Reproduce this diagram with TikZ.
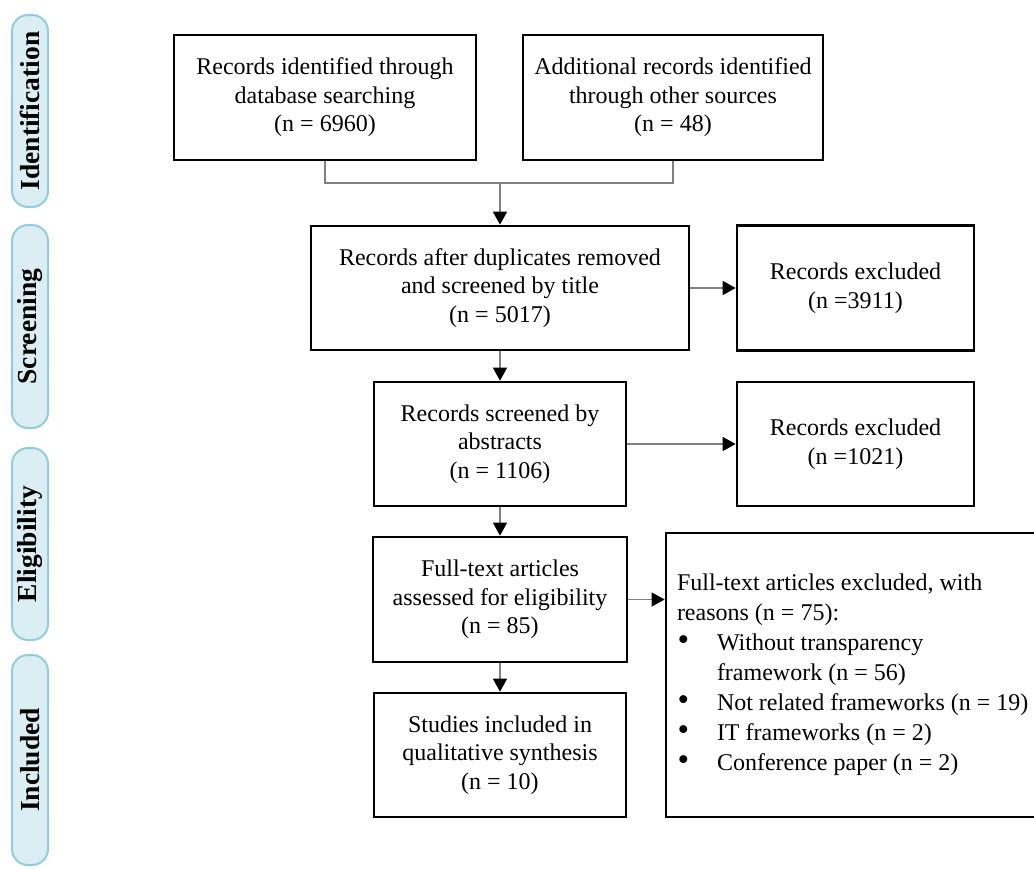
\documentclass[tikz,border=0pt]{standalone}
\usepackage{fontspec}
\setmainfont{Liberation Serif}
\usetikzlibrary{arrows.meta}
\definecolor{linegray}{HTML}{808080}
\definecolor{stagefill}{HTML}{DAEEF3}
\definecolor{stageedge}{HTML}{92CDDC}
\newcommand{\listdot}{\makebox[40pt][l]{\hspace{0.5pt}{\fontsize{33}{30}\selectfont\textbullet}}}
\begin{document}
\begin{tikzpicture}[x=1pt,y=-1pt,
  box/.style={draw=black, line width=2.7pt, align=center, inner sep=0pt,
    font=\fontsize{24}{28.5}\selectfont},
  stage/.style={draw=stageedge, fill=stagefill, line width=2pt, rounded corners=16pt,
    rotate=90, minimum height=36pt, inner sep=0pt,
    font=\fontsize{27.5}{30}\selectfont\bfseries},
  link/.style={draw=linegray, line width=1.5pt},
  flow/.style={link, -{Triangle[color=black,length=13pt,width=14pt]}}]

\useasboundingbox (0,0) rectangle (1034,868);

% phase labels on the left
\node[stage, minimum width=192pt] (sid) at (30,111)   {Identification};
\node[stage, minimum width=203pt] (ssc) at (30,326.5) {Screening};
\node[stage, minimum width=192pt] (sel) at (30,544)   {Eligibility};
\node[stage, minimum width=210pt] (sin) at (30,760)   {Included};

% identification
\node[box, minimum width=302pt, minimum height=125pt] (b1) at (325,97.5)
  {Records identified through\\database searching\\(n = 6960)};
\node[box, minimum width=300pt, minimum height=125pt] (b2) at (673,97.5)
  {Additional records identified\\through other sources\\(n = 48)};

% screening
\node[box, minimum width=378pt, minimum height=124pt] (b3) at (500,288)
  {Records after duplicates removed\\and screened by title\\(n = 5017)};
\node[box, minimum width=237pt, minimum height=125pt] (ex1) at (855.5,288)
  {Records excluded\\(n =3911)};
\node[box, minimum width=252pt, minimum height=124pt] (b4) at (500,444)
  {Records screened by\\abstracts\\(n = 1106)};
\node[box, minimum width=237pt, minimum height=124pt] (ex2) at (855.5,444)
  {Records excluded\\(n =1021)};

% eligibility
\node[box, minimum width=254pt, minimum height=125pt] (b5) at (500,599.5)
  {Full-text articles\\assessed for eligibility\\(n = 85)};
\node[box, align=flush left, text width=378pt, inner xsep=11pt, minimum height=284pt,
  font=\fontsize{24}{30}\selectfont] (ex3) at (866,675)
  {Full-text articles excluded, with\\
   reasons (n = 75):\\
   \listdot Without transparency\\
   \hspace*{40pt}framework (n = 56)\\
   \listdot Not related frameworks (n = 19)\\
   \listdot IT frameworks (n = 2)\\
   \listdot Conference paper (n = 2)};

% included
\node[box, minimum width=252pt, minimum height=124pt] (b6) at (500,755)
  {Studies included in\\qualitative synthesis\\(n = 10)};

% connectors
\coordinate (j) at (500,183);
\draw[link] (b1.south) |- (j) -| (b2.south);
\draw[flow] (j) -- (b3.north);
\draw[flow] (b3.east) -- (ex1.west);
\draw[flow] (b3.south) -- (b4.north);
\draw[flow] (b4.east) -- (ex2.west);
\draw[flow] (b4.south) -- (b5.north);
\draw[flow] (b5.east) -- (b5.east -| ex3.west);
\draw[flow] (b5.south) -- (b6.north);
\end{tikzpicture}
\end{document}
